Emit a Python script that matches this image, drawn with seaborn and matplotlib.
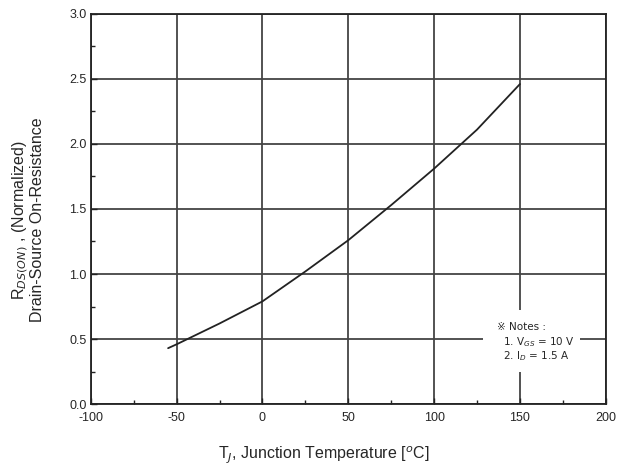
import matplotlib
matplotlib.use("Agg")
import matplotlib.pyplot as plt
import seaborn as sns
import pandas as pd
from matplotlib.ticker import MultipleLocator
from matplotlib.patches import Rectangle

temps = [-55, -50, -25, 0, 25, 50, 75, 100, 125, 150]
rds_norm = [0.43, 0.46, 0.62, 0.79, 1.02, 1.26, 1.53, 1.81, 2.11, 2.46]
x_ticks = [-100, -50, 0, 50, 100, 150, 200]
y_ticks = [0.0, 0.5, 1.0, 1.5, 2.0, 2.5, 3.0]
notes_title = "※ Notes :"
notes = ["1. V$_{GS}$ = 10 V", "2. I$_{D}$ = 1.5 A"]

sns.set_style("white")
plt.rcParams['font.family'] = ['Liberation Sans', 'DejaVu Sans']

df = pd.DataFrame({"T": temps, "R": rds_norm})

fig = plt.figure(figsize=(6.31, 4.76), dpi=100)
ax = fig.add_axes([0.144, 0.151, 0.816, 0.820])
sns.lineplot(data=df, x="T", y="R", ax=ax, color="#222222", linewidth=1.3)

ax.set_xlim(-100, 200)
ax.set_ylim(0, 3.0)
ax.set_xticks(x_ticks)
ax.set_yticks(y_ticks)
ax.set_xticklabels([str(v) for v in x_ticks], fontsize=9)
ax.set_yticklabels([f"{v:.1f}" for v in y_ticks], fontsize=9)
ax.xaxis.set_minor_locator(MultipleLocator(25))
ax.yaxis.set_minor_locator(MultipleLocator(0.25))
ax.tick_params(which="both", direction="in", left=True, bottom=True, color="#222222")
ax.tick_params(which="major", length=4, width=1)
ax.tick_params(axis="x", which="major", pad=6)
ax.tick_params(axis="y", which="major", pad=3)
ax.tick_params(which="minor", length=3, width=1)
ax.grid(True, which="major", color="#444444", linewidth=1.3)
for s in ax.spines.values():
    s.set_color("#222222")
    s.set_linewidth(1.3)

ax.set_xlabel("T$_J$, Junction Temperature [$^o$C]", fontsize=11.5)
ax.xaxis.set_label_coords(0.452, -0.105)
ax.set_ylabel("R$_{DS(ON)}$ , (Normalized)\nDrain-Source On-Resistance", fontsize=11.5, linespacing=0.95)
ax.yaxis.set_label_coords(-0.09, 0.472)

ax.add_patch(Rectangle((0.761, 0.082), 0.189, 0.159, transform=ax.transAxes,
                       facecolor="white", edgecolor="none", zorder=3))
ax.text(0.788, 0.197, notes_title, transform=ax.transAxes, fontsize=7.5,
        va="center", ha="left", family=['DejaVu Sans'], zorder=4)
for i, line in enumerate(notes):
    ax.text(0.800, 0.159 - i * 0.036, line, transform=ax.transAxes, fontsize=7.5,
            va="center", ha="left", family=['DejaVu Sans'], zorder=4)

fig.savefig("out.png", dpi=100)
